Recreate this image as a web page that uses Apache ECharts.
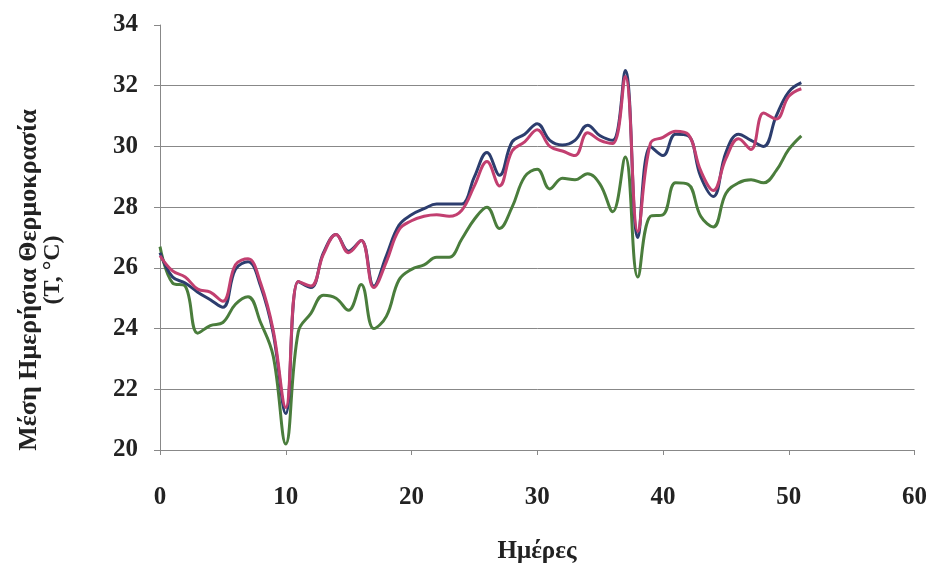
<!DOCTYPE html>
<html>
<head>
<meta charset="utf-8">
<script src="https://cdn.jsdelivr.net/npm/echarts@6/dist/echarts.min.js"></script>
<style>html,body{margin:0;padding:0;background:#fff}#c{width:930px;height:568px}</style>
</head>
<body>
<div id="c"></div>
<script>
const days = [0,1,2,3,4,5,6,7,8,9,10,11,12,13,14,15,16,17,18,19,20,21,22,23,24,25,26,27,28,29,30,31,32,33,34,35,36,37,38,39,40,41,42,43,44,45,46,47,48,49,50,51];
const seriesBlue = [26.5,25.7,25.5,25.2,24.95,24.7,25.95,26.2,25.4,23.85,21.2,25.55,25.35,26.5,27.1,26.55,26.9,25.4,26.4,27.4,27.75,27.95,28.1,28.1,28.1,29.0,29.8,29.05,30.15,30.4,30.75,30.2,30.05,30.2,30.7,30.35,30.2,32.5,27.0,30.0,29.7,30.4,30.35,29.0,28.35,29.8,30.4,30.2,30.0,31.0,31.8,32.1];
const seriesMagenta = [26.4,25.9,25.7,25.3,25.2,24.9,26.1,26.3,25.5,23.95,21.4,25.55,25.4,26.45,27.1,26.5,26.9,25.35,26.2,27.25,27.55,27.7,27.75,27.7,27.9,28.7,29.5,28.7,29.85,30.15,30.55,30.0,29.85,29.7,30.45,30.2,30.1,32.3,27.2,30.1,30.3,30.5,30.4,29.2,28.55,29.6,30.25,29.9,31.1,30.9,31.65,31.9];
const seriesGreen = [26.7,25.5,25.4,23.85,24.1,24.2,24.8,25.05,24.2,23.1,20.2,23.9,24.5,25.1,25.0,24.6,25.45,24.0,24.4,25.6,25.95,26.1,26.35,26.35,26.95,27.6,28.0,27.3,28.0,29.0,29.25,28.6,28.95,28.9,29.1,28.75,27.85,29.65,25.7,27.7,27.75,28.8,28.75,27.7,27.35,28.45,28.8,28.9,28.8,29.2,29.9,30.35];
const xTitle = 'Ημέρες';
const yTitle1 = 'Μέση Ημερήσια Θερμοκρασία';
const yTitle2 = '(T, °C)';

const pairs = arr => days.map((d, i) => [d, arr[i]]);
const font = 'Liberation Serif';
const chart = echarts.init(document.getElementById('c'), null, {renderer: 'canvas'});
const lineSeries = (data, color) => ({
  type: 'line', data: pairs(data), smooth: 0.4, showSymbol: false, symbol: 'none',
  lineStyle: {color: color, width: 3}, itemStyle: {color: color}
});
chart.setOption({
  animation: false,
  backgroundColor: '#fff',
  grid: {left: 160, right: 15, top: 25, bottom: 118},
  xAxis: {
    type: 'value', min: 0, max: 60, interval: 10,
    axisLine: {show: true, lineStyle: {color: '#888', width: 1}},
    axisTick: {show: true, length: 5, lineStyle: {color: '#888'}},
    splitLine: {show: false},
    axisLabel: {margin: 35, color: '#222', fontFamily: font, fontWeight: 'bold', fontSize: 25}
  },
  yAxis: {
    type: 'value', min: 20, max: 34, interval: 2,
    axisLine: {show: true, lineStyle: {color: '#888', width: 1}},
    axisTick: {show: true, length: 6, lineStyle: {color: '#888'}},
    splitLine: {show: true, lineStyle: {color: ['#888','#888','#888','#888','#888','#888','#888','rgba(0,0,0,0)'], width: 1}},
    axisLabel: {margin: 22, color: '#222', fontFamily: font, fontWeight: 'bold', fontSize: 25}
  },
  graphic: [
    {type: 'text', x: 537, y: 552, silent: true,
     style: {text: xTitle, font: 'bold 25px "Liberation Serif"', fill: '#222', align: 'center', verticalAlign: 'middle'}},
    {type: 'text', x: 29, y: 280, rotation: Math.PI / 2, silent: true,
     style: {text: yTitle1, font: 'bold 26px "Liberation Serif"', fill: '#222', align: 'center', verticalAlign: 'middle'}},
    {type: 'text', x: 53, y: 270, rotation: Math.PI / 2, silent: true,
     style: {text: yTitle2, font: 'bold 24px "Liberation Serif"', fill: '#222', align: 'center', verticalAlign: 'middle'}}
  ],
  series: [
    lineSeries(seriesGreen, '#4a7d3c'),
    lineSeries(seriesBlue, '#2c3d6e'),
    lineSeries(seriesMagenta, '#c23f70')
  ]
});
</script>
</body>
</html>
